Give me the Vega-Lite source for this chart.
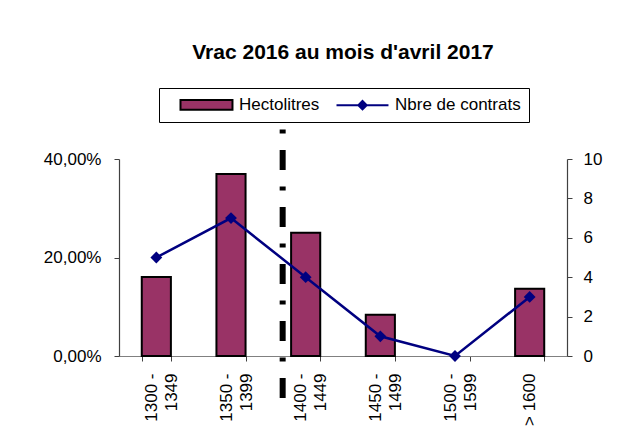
{
  "$schema": "https://vega.github.io/schema/vega-lite/v6.json",
  "width": 448,
  "height": 197,
  "autosize": "none",
  "padding": {"left": 119, "top": 159, "right": 60, "bottom": 88},
  "background": "white",
  "title": {
    "text": "Vrac 2016 au mois d'avril 2017",
    "font": "Liberation Sans",
    "fontSize": 21,
    "fontWeight": "bold",
    "color": "black",
    "anchor": "middle",
    "offset": 25
  },
  "data": {
    "values": [
      {"tranche": "1300 - 1349", "hl": 0.1604, "n": 5},
      {"tranche": "1350 - 1399", "hl": 0.3695, "n": 7},
      {"tranche": "1400 - 1449", "hl": 0.2503, "n": 4},
      {"tranche": "1450 - 1499", "hl": 0.0839, "n": 1},
      {"tranche": "1500 - 1599", "hl": 0.0, "n": 0},
      {"tranche": "> 1600", "hl": 0.1367, "n": 3}
    ]
  },
  "encoding": {
    "x": {
      "field": "tranche",
      "type": "nominal",
      "title": null,
      "scale": {
        "domain": ["1300 - 1349", "1350 - 1399", "1400 - 1449", "1450 - 1499", "1500 - 1599", "> 1600"],
        "paddingInner": 0.61,
        "paddingOuter": 0.305
      },
      "axis": {
        "labelAngle": -90,
        "labelExpr": "length(datum.label) > 6 ? [slice(datum.label, 0, 6), slice(datum.label, 7)] : datum.label",
        "labelOffset": {"condition": {"test": "datum.value === '> 1600'", "value": 0}, "value": -5},
        "labelOverlap": false,
        "tickBand": "extent",
        "domainColor": "#808080",
        "tickColor": "#404040",
        "tickSize": 5,
        "labelPadding": 12,
        "labelLineHeight": 20
      }
    }
  },
  "layer": [
    {
      "layer": [
        {
          "mark": {"type": "bar", "stroke": "black"},
          "encoding": {
            "y": {
              "field": "hl",
              "type": "quantitative",
              "title": null,
              "scale": {"domain": [0, 0.4], "nice": false},
              "axis": {
                "values": [0, 0.2, 0.4],
                "labelExpr": "replace(format(datum.value, '.2%'), '.', ',')",
                "labelOverlap": false,
                "tickSize": 5,
                "labelPadding": 13,
                "domainColor": "#404040",
                "tickColor": "#404040"
              }
            },
            "strokeWidth": {"condition": {"test": "datum.hl === 0", "value": 0}, "value": 2},
            "fill": {
              "datum": "Hectolitres",
              "type": "nominal",
              "scale": {"domain": ["Hectolitres", "Nbre de contrats"], "range": ["#993366", "#000080"]},
              "legend": {
                "title": null,
                "orient": "none",
                "legendX": 40,
                "legendY": -71,
                "direction": "horizontal",
                "strokeColor": "black",
                "padding": 8,
                "symbolSize": 196,
                "symbolStrokeWidth": 2,
                "symbolOpacity": 1,
                "labelOffset": 55,
                "columnPadding": 3,
                "labelFont": "Liberation Sans",
                "labelFontSize": 17,
                "labelColor": "black"
              }
            }
          }
        },
        {
          "data": {"values": [{"tranche": "1400 - 1449", "haut": 0.4599, "bas": -0.0853}]},
          "mark": {"type": "rule", "color": "black", "strokeWidth": 6, "strokeDash": [4, 16.5, 20, 16.5]},
          "encoding": {
            "x": {"field": "tranche", "type": "nominal", "bandPosition": -0.29},
            "y": {"field": "haut", "type": "quantitative"},
            "y2": {"field": "bas"}
          }
        }
      ]
    },
    {
      "layer": [
        {
          "mark": {"type": "line", "color": "#000080", "strokeWidth": 2.5},
          "encoding": {
            "y": {
              "field": "n",
              "type": "quantitative",
              "title": null,
              "scale": {"domain": [0, 10], "nice": false},
              "axis": {
                "orient": "right",
                "values": [0, 2, 4, 6, 8, 10],
                "labelOverlap": false,
                "tickSize": 5,
                "labelPadding": 11,
                "domainColor": "#404040",
                "tickColor": "#404040"
              }
            }
          }
        },
        {
          "mark": {"type": "point", "shape": "diamond", "filled": true, "color": "#000080", "size": 140, "opacity": 1},
          "encoding": {
            "y": {
              "field": "n",
              "type": "quantitative",
              "title": null,
              "axis": {
                "orient": "right",
                "values": [0, 2, 4, 6, 8, 10],
                "labelOverlap": false,
                "tickSize": 5,
                "labelPadding": 11,
                "domainColor": "#404040",
                "tickColor": "#404040"
              }
            }
          }
        },
        {
          "mark": {"type": "point", "opacity": 0, "filled": true, "strokeWidth": 2},
          "encoding": {
            "y": {
              "field": "n",
              "type": "quantitative",
              "title": null,
              "axis": {
                "orient": "right",
                "values": [0, 2, 4, 6, 8, 10],
                "labelOverlap": false,
                "tickSize": 5,
                "labelPadding": 11,
                "domainColor": "#404040",
                "tickColor": "#404040"
              }
            },
            "fill": {
              "datum": "Nbre de contrats",
              "type": "nominal",
              "scale": {"domain": ["Hectolitres", "Nbre de contrats"], "range": ["#993366", "#000080"]},
              "legend": {
                "title": null,
                "orient": "none",
                "legendX": 40,
                "legendY": -71,
                "direction": "horizontal",
                "strokeColor": "black",
                "padding": 8,
                "symbolSize": 196,
                "symbolStrokeWidth": 2,
                "symbolOpacity": 1,
                "labelOffset": 55,
                "columnPadding": 3,
                "labelFont": "Liberation Sans",
                "labelFontSize": 17,
                "labelColor": "black"
              }
            },
            "shape": {
              "datum": "Nbre de contrats",
              "type": "nominal",
              "scale": {
                "domain": ["Hectolitres", "Nbre de contrats"],
                "range": ["M0.714,-0.7H8.14V0.7H0.714Z", "M0.714,0H8.14M4.43,-0.6L5.03,0L4.43,0.6L3.83,0Z"]
              },
              "legend": {
                "title": null,
                "orient": "none",
                "legendX": 40,
                "legendY": -71,
                "direction": "horizontal",
                "strokeColor": "black",
                "padding": 8,
                "symbolSize": 196,
                "symbolStrokeWidth": 2,
                "symbolOpacity": 1,
                "labelOffset": 55,
                "columnPadding": 3,
                "labelFont": "Liberation Sans",
                "labelFontSize": 17,
                "labelColor": "black"
              }
            },
            "stroke": {
              "datum": "Nbre de contrats",
              "type": "nominal",
              "scale": {"domain": ["Hectolitres", "Nbre de contrats"], "range": ["black", "#000080"]},
              "legend": {
                "title": null,
                "orient": "none",
                "legendX": 40,
                "legendY": -71,
                "direction": "horizontal",
                "strokeColor": "black",
                "padding": 8,
                "symbolSize": 196,
                "symbolStrokeWidth": 2,
                "symbolOpacity": 1,
                "labelOffset": 55,
                "columnPadding": 3,
                "labelFont": "Liberation Sans",
                "labelFontSize": 17,
                "labelColor": "black"
              }
            }
          }
        }
      ]
    }
  ],
  "resolve": {"scale": {"y": "independent"}},
  "config": {
    "view": {"stroke": null},
    "axis": {
      "grid": false,
      "labelFont": "Liberation Sans",
      "labelFontSize": 17,
      "labelColor": "black",
      "domainWidth": 1.2
    }
  }
}
